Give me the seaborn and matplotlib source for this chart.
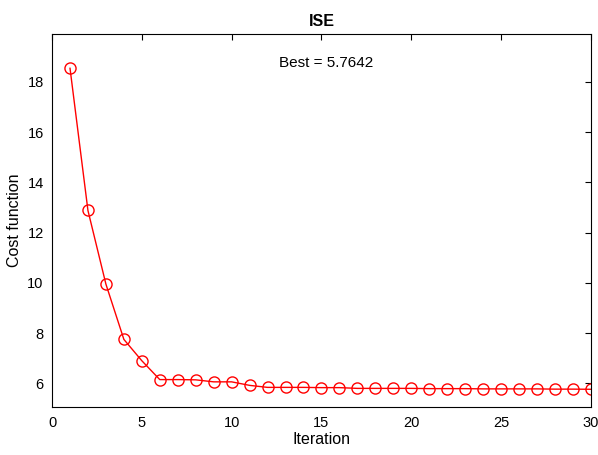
import matplotlib
matplotlib.use("Agg")
import matplotlib.pyplot as plt
import seaborn as sns
import pandas as pd

iterations = list(range(1, 31))
cost = [18.55, 12.88, 9.95, 7.75, 6.90, 6.15, 6.15, 6.14, 6.06, 6.06,
        5.92, 5.84, 5.84, 5.84, 5.83, 5.83, 5.80, 5.80, 5.80, 5.80,
        5.79, 5.79, 5.79, 5.78, 5.78, 5.78, 5.78, 5.77, 5.77, 5.7642]
best_label = "Best = 5.7642"
title = "ISE"
xticks = [0, 5, 10, 15, 20, 25, 30]
yticks = [6, 8, 10, 12, 14, 16, 18]

sns.set_style("white")
plt.rcParams['font.family'] = ['Liberation Sans', 'DejaVu Sans']
plt.rcParams['text.color'] = 'black'
plt.rcParams['axes.labelcolor'] = 'black'
plt.rcParams['xtick.color'] = 'black'
plt.rcParams['ytick.color'] = 'black'

df = pd.DataFrame({"Iteration": iterations, "Cost": cost})

fig = plt.figure(figsize=(5.98, 4.55), dpi=100)
ax = fig.add_axes([0.087, 0.105, 0.901, 0.820])
sns.lineplot(data=df, x="Iteration", y="Cost", ax=ax, color="red", lw=1.0,
             marker="o", markersize=8, markerfacecolor="none",
             markeredgecolor="red", markeredgewidth=1.0)
ax.set_xlim(0, 30)
ax.set_ylim(5.05, 19.9)
ax.set_xticks(xticks)
ax.set_yticks(yticks)
ax.tick_params(direction="in", top=True, right=True, length=4, width=0.8,
               labelsize=10.5, pad=6, colors="black")
for s in ax.spines.values():
    s.set_color("black")
    s.set_linewidth(0.8)
ax.set_xlabel("Iteration", fontsize=11.5, labelpad=2, color="black")
ax.set_ylabel("Cost function", fontsize=11.5, color="black")
ax.set_title(title, fontsize=11.5, fontweight="bold", pad=6, color="black")
ax.text(15.25, 18.76, best_label, ha="center", va="center", fontsize=11,
        color="black")
fig.savefig("out.png", dpi=100)
